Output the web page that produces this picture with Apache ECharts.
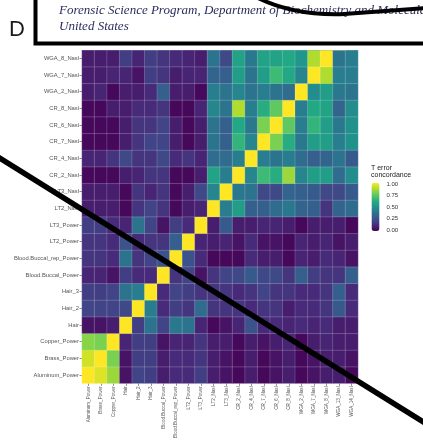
<!DOCTYPE html>
<html>
<head>
<meta charset="utf-8">
<script src="https://cdn.jsdelivr.net/npm/echarts@6/dist/echarts.min.js"></script>
<style>html,body{margin:0;padding:0;background:#fff;}#chart{width:423px;height:443px;}</style>
</head>
<body>
<div id="chart"></div>
<script>
// Categories (x: left to right, y: bottom to top)
const categories = ['Aluminum_Power','Brass_Power','Copper_Power','Hair','Hair_2','Hair_3','Blood.Buccal_Power','Blood.Buccal_rep_Power','LT2_Power','LT3_Power','LT2_Nasl','LT3_Nasl','CR_2_Nasl','CR_4_Nasl','CR_7_Nasl','CR_6_Nasl','CR_8_Nasl','WGA_2_Nasl','WGA_7_Nasl','WGA_8_Nasl','WGA_13_Nasl','WGA_14_Nasl'];

// One array per row (values across the x categories)
const rowAluminumPower   = [1.00,0.95,0.85,0.05,0.20,0.18,0.08,0.12,0.12,0.18,0.08,0.05,0.02,0.08,0.02,0.05,0.08,0.02,0.05,0.08,0.08,0.02];
const rowBrassPower      = [0.93,1.00,0.80,0.05,0.18,0.18,0.08,0.12,0.12,0.15,0.08,0.05,0.02,0.08,0.02,0.05,0.08,0.02,0.05,0.08,0.08,0.05];
const rowCopperPower     = [0.82,0.80,1.00,0.10,0.18,0.18,0.05,0.10,0.10,0.15,0.08,0.08,0.02,0.08,0.05,0.08,0.10,0.02,0.08,0.10,0.08,0.08];
const rowHair            = [0.05,0.05,0.08,1.00,0.18,0.38,0.20,0.40,0.38,0.10,0.02,0.05,0.10,0.25,0.12,0.12,0.10,0.12,0.10,0.12,0.08,0.08];
const rowHair2           = [0.20,0.20,0.20,0.22,1.00,0.42,0.12,0.18,0.15,0.35,0.15,0.15,0.15,0.12,0.15,0.15,0.08,0.12,0.12,0.15,0.28,0.12];
const rowHair3           = [0.18,0.18,0.20,0.38,0.42,1.00,0.12,0.20,0.18,0.15,0.15,0.15,0.12,0.15,0.20,0.15,0.15,0.12,0.12,0.15,0.30,0.12];
const rowBloodBuccal     = [0.10,0.10,0.05,0.18,0.12,0.12,1.00,0.15,0.20,0.05,0.15,0.20,0.22,0.28,0.22,0.22,0.15,0.30,0.18,0.15,0.15,0.30];
const rowBloodBuccalRep  = [0.15,0.15,0.12,0.38,0.15,0.20,0.25,1.00,0.25,0.12,0.02,0.02,0.02,0.12,0.08,0.08,0.02,0.10,0.08,0.12,0.10,0.05];
const rowLT2Power        = [0.15,0.15,0.12,0.25,0.12,0.15,0.15,0.30,1.00,0.10,0.08,0.10,0.05,0.12,0.05,0.05,0.02,0.10,0.08,0.10,0.05,0.08];
const rowLT3Power        = [0.18,0.18,0.12,0.10,0.38,0.20,0.05,0.18,0.12,1.00,0.08,0.28,0.08,0.08,0.10,0.10,0.08,0.02,0.08,0.08,0.08,0.02];
const rowLT2Nasl         = [0.08,0.08,0.08,0.02,0.15,0.20,0.15,0.02,0.08,0.10,1.00,0.42,0.55,0.30,0.30,0.35,0.40,0.32,0.30,0.15,0.32,0.35];
const rowLT3Nasl         = [0.08,0.08,0.08,0.02,0.15,0.10,0.15,0.02,0.08,0.22,0.45,1.00,0.40,0.38,0.22,0.22,0.32,0.30,0.28,0.22,0.22,0.28];
const rowCR2Nasl         = [0.02,0.02,0.02,0.08,0.10,0.15,0.15,0.02,0.02,0.08,0.58,0.42,1.00,0.45,0.68,0.62,0.85,0.45,0.55,0.55,0.35,0.48];
const rowCR4Nasl         = [0.10,0.10,0.15,0.22,0.15,0.15,0.22,0.12,0.15,0.10,0.35,0.35,0.42,1.00,0.42,0.38,0.42,0.35,0.30,0.32,0.38,0.28];
const rowCR7Nasl         = [0.02,0.02,0.02,0.08,0.15,0.20,0.20,0.08,0.02,0.08,0.38,0.30,0.65,0.45,1.00,0.80,0.62,0.40,0.55,0.55,0.42,0.50];
const rowCR6Nasl         = [0.02,0.02,0.02,0.08,0.15,0.15,0.20,0.08,0.02,0.08,0.38,0.30,0.60,0.40,0.80,1.00,0.75,0.42,0.65,0.55,0.40,0.50];
const rowCR8Nasl         = [0.02,0.02,0.08,0.08,0.12,0.12,0.15,0.02,0.02,0.10,0.45,0.38,0.88,0.42,0.62,0.75,1.00,0.42,0.60,0.58,0.32,0.48];
const rowWGA2Nasl        = [0.08,0.10,0.02,0.08,0.08,0.12,0.30,0.08,0.08,0.02,0.42,0.38,0.45,0.38,0.42,0.38,0.35,1.00,0.48,0.55,0.40,0.38];
const rowWGA7Nasl        = [0.08,0.08,0.10,0.10,0.05,0.18,0.15,0.08,0.10,0.10,0.32,0.30,0.55,0.38,0.55,0.68,0.60,0.45,1.00,0.88,0.42,0.42];
const rowWGA8Nasl        = [0.08,0.08,0.08,0.18,0.10,0.18,0.15,0.12,0.10,0.08,0.38,0.22,0.58,0.40,0.58,0.58,0.60,0.52,0.88,1.00,0.38,0.42];
const rowWGA13Nasl       = [0.08,0.08,0.08,0.08,0.28,0.30,0.15,0.10,0.05,0.08,0.32,0.22,0.35,0.38,0.42,0.40,0.32,0.40,0.42,0.38,1.00,0.45];
const rowWGA14Nasl       = [0.02,0.05,0.08,0.08,0.12,0.12,0.30,0.05,0.08,0.02,0.35,0.28,0.48,0.28,0.50,0.50,0.48,0.38,0.42,0.42,0.45,1.00];

// Legend tick labels
const legendTicks = [0, 0.25, 0.5, 0.75, 1];
const legendTitle = ['T error', 'concordance'];

const rows = [rowAluminumPower,rowBrassPower,rowCopperPower,rowHair,rowHair2,rowHair3,rowBloodBuccal,rowBloodBuccalRep,rowLT2Power,rowLT3Power,rowLT2Nasl,rowLT3Nasl,rowCR2Nasl,rowCR4Nasl,rowCR7Nasl,rowCR6Nasl,rowCR8Nasl,rowWGA2Nasl,rowWGA7Nasl,rowWGA8Nasl,rowWGA13Nasl,rowWGA14Nasl];
const cells = [];
rows.forEach((r, yi) => r.forEach((v, xi) => cells.push([xi, yi, v])));

const viridis = ['#440154','#482475','#414487','#355f8d','#2a788e','#21918c','#22a884','#44bf70','#7ad151','#bddf26','#fde725'];

const chart = echarts.init(document.getElementById('chart'), null, {renderer: 'canvas'});
const font = 'Liberation Sans, Arial, sans-serif';
chart.setOption({
  backgroundColor: '#fff',
  animation: false,
  grid: [
    {left: 82, top: 16.67, width: 276, height: 366.67},
    {left: 371.5, top: 184, width: 8, height: 46}
  ],
  xAxis: [
    {type: 'category', data: categories, gridIndex: 0, position: 'bottom',
     axisLine: {show: false}, splitLine: {show: false},
     axisTick: {show: true, alignWithLabel: true, length: 2.5, lineStyle: {color: '#444', width: 0.6}},
     axisLabel: {rotate: 90, fontSize: 4.6, color: '#555', margin: 3, interval: 0, fontFamily: font}},
    {type: 'value', gridIndex: 1, show: false, min: 0, max: 1}
  ],
  yAxis: [
    {type: 'category', data: categories, gridIndex: 0,
     axisLine: {show: false}, splitLine: {show: false},
     axisTick: {show: true, alignWithLabel: true, length: 2.5, lineStyle: {color: '#444', width: 0.6}},
     axisLabel: {fontSize: 5.8, color: '#555', margin: 3, interval: 0, fontFamily: font}},
    {type: 'value', gridIndex: 1, min: 0, max: 1, interval: 0.25, position: 'right', z: 10,
     axisLine: {show: false}, splitLine: {show: false},
     axisTick: {show: true, inside: true, length: 1.8, lineStyle: {color: '#fff', width: 0.8}},
     axisLabel: {formatter: v => v.toFixed(2), fontSize: 6, color: '#333', margin: 7, fontFamily: font}}
  ],
  visualMap: {
    type: 'continuous', min: 0, max: 1, calculable: false, show: true,
    seriesIndex: 0, orient: 'vertical', left: 371.5, top: 183, itemWidth: 8, itemHeight: 48,
    padding: 0, showLabel: false,
    inRange: {color: viridis}
  },
  series: [{
    type: 'heatmap', xAxisIndex: 0, yAxisIndex: 0, data: cells,
    itemStyle: {borderColor: 'rgba(255,255,255,0.3)', borderWidth: 0.6},
    emphasis: {disabled: true}
  }],
  graphic: [
    {type: 'text', z: 50, style: {text: legendTitle[0], x: 371, y: 168, font: '7px ' + font, fill: '#222', textVerticalAlign: 'middle'}},
    {type: 'text', z: 50, style: {text: legendTitle[1], x: 371, y: 175.5, font: '7px ' + font, fill: '#222', textVerticalAlign: 'middle'}},
    {type: 'rect', z: 90, shape: {x: 33, y: -10, width: 400, height: 60}, style: {fill: '#fff'}},
    {type: 'rect', z: 91, shape: {x: 35.5, y: -10, width: 400, height: 53.5}, style: {fill: '#fff', stroke: '#000', lineWidth: 4}},
    {type: 'text', z: 92, style: {text: 'Forensic Science Program, Department of Biochemistry and Molecular Biology,', x: 59, y: 11, font: 'italic 13px "Liberation Serif", "DejaVu Serif", serif', fill: '#2b2d5c', textVerticalAlign: 'middle'}},
    {type: 'text', z: 92, style: {text: 'United States', x: 59, y: 27, font: 'italic 13px "Liberation Serif", "DejaVu Serif", serif', fill: '#2b2d5c', textVerticalAlign: 'middle'}},
    {type: 'bezierCurve', z: 93, shape: {x1: 258, y1: -2, cpx1: 295, cpy1: 16, x2: 345, y2: 14}, style: {fill: null, stroke: '#000', lineWidth: 4}},
    {type: 'line', z: 93, shape: {x1: 344, y1: 14, x2: 425, y2: 8}, style: {stroke: '#000', lineWidth: 4}},
    {type: 'text', z: 92, style: {text: 'D', x: 9, y: 30, font: '22px "Liberation Sans", Arial, sans-serif', fill: '#1a1a1a', textVerticalAlign: 'middle'}},
    {type: 'line', z: 95, shape: {x1: -2, y1: 157, x2: 425, y2: 423}, style: {stroke: '#000', lineWidth: 5.5}}
  ]
});
</script>
</body>
</html>
